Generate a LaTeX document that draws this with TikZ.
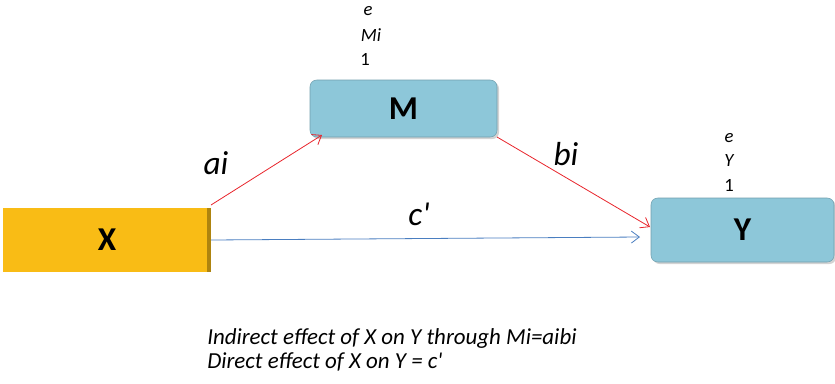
\documentclass[tikz,border=0pt]{standalone}
\usepackage{fontspec}
\setmainfont{Carlito}[Ligatures=TeXOff]
\usetikzlibrary{arrows.meta,shadows}
\definecolor{boxblue}{HTML}{8DC7D9}
\definecolor{boxorange}{HTML}{F9BC15}
\definecolor{arrred}{HTML}{E8242B}
\definecolor{arrblue}{HTML}{4A7EC0}
\tikzset{
  bluebox/.style={draw=boxblue!80!black, line width=0.4pt, fill=boxblue, rounded corners=5pt, inner sep=0pt, font=\fontsize{25}{25}\selectfont\bfseries, drop shadow={shadow xshift=1.5pt, shadow yshift=-1.5pt, opacity=0.35}},
  orangebox/.style={draw=none, fill=boxorange, inner sep=0pt, font=\fontsize{25}{25}\selectfont\bfseries},
  redarrow/.style={draw=arrred, line width=0.6pt, -{Straight Barb[length=6pt,width=9pt]}},
  bluearrow/.style={draw=arrblue, line width=0.6pt, -{Straight Barb[length=6pt,width=9pt]}},
  small/.style={font=\fontsize{14}{14}\selectfont\itshape, inner sep=0pt},
  pathlabel/.style={font=\fontsize{25}{25}\selectfont\itshape, inner sep=0pt},
  note/.style={font=\fontsize{17.2}{19}\selectfont\itshape, inner sep=0pt, anchor=west}
}
\begin{document}
\begin{tikzpicture}[x=0.75pt,y=-0.75pt]
\useasboundingbox (0,0) rectangle (835,383);
% X box
\node[orangebox, minimum width=208*0.75pt, minimum height=64*0.75pt] (X) at (107,240) {X};
\fill[boxorange!70!black] (207,208) rectangle (211,272);
% M box
\node[bluebox, minimum width=187*0.75pt, minimum height=57*0.75pt] (M) at (403.5,108.5) {M};
% Y box
\node[bluebox, minimum width=183*0.75pt, minimum height=64*0.75pt] (Y) at (742.5,230) {Y};
% labels above M
\node[small] (eM) at (368,11) {e};
\node[small] (Mi) at (371,35) {Mi};
\node[small] (oneM) at (365,59) {\upshape 1};
% labels above Y
\node[small] (eY) at (729,138) {e};
\node[small] (YY) at (729,161) {Y};
\node[small] (oneY) at (729,185) {\upshape 1};
% connectors
\coordinate (xa) at (211,205);
\coordinate (ma) at (322,135);
\coordinate (mb) at (497,137);
\coordinate (yb) at (650,227);
\coordinate (xc) at (211,240);
\coordinate (yc) at (640,237);
\draw[redarrow] (xa) -- (ma);
\draw[redarrow] (mb) -- (yb);
\draw[bluearrow] (xc) -- (yc);
% path labels
\node[pathlabel] (ai) at (216,163) {ai};
\node[pathlabel] (bi) at (566,154) {bi};
\node[pathlabel] (cp) at (419,214) {c'};
% notes
\node[note] (n1) at (207,338) {Indirect effect of X on Y through Mi=aibi};
\node[note] (n2) at (207,362) {Direct effect of X on Y = c'};
\end{tikzpicture}
\end{document}
